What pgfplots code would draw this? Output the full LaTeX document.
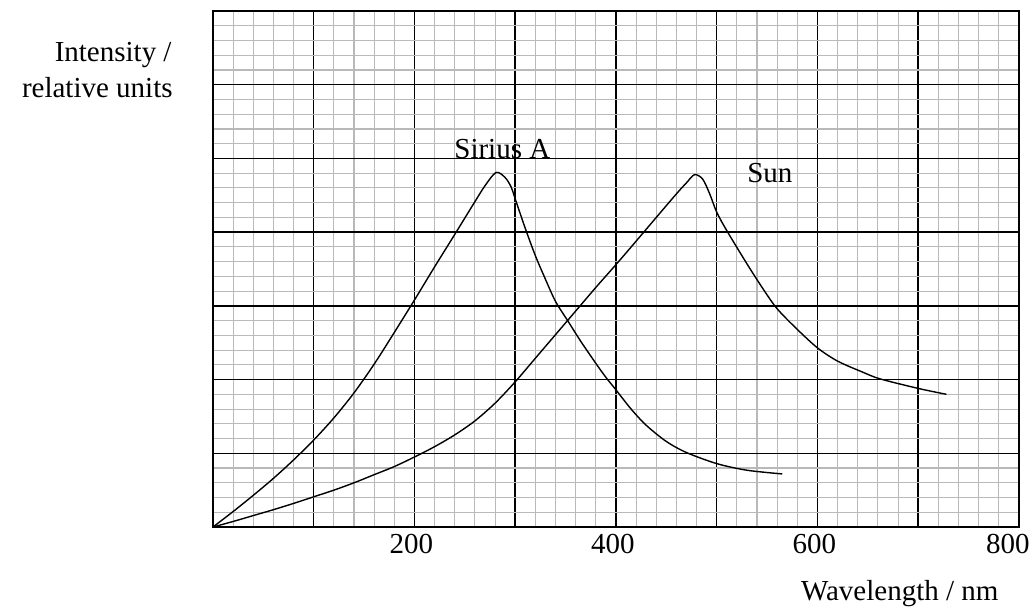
\documentclass[border=0pt]{standalone}
\usepackage{pgfplots}
\pgfplotsset{compat=1.18}
\usepackage{fontspec}
\setmainfont{Liberation Serif}
\newcommand{\lblfont}{\fontsize{14.5}{17}\selectfont}
\begin{document}
\begin{tikzpicture}
\begin{axis}[
  name=ax,
  scale only axis,
  width=403pt, height=258pt,
  xmin=0, xmax=800, ymin=0, ymax=7,
  xtick={0,100,...,800},
  xticklabels={,,200,,400,,600,,{\makebox[0pt][c]{\hspace*{-8pt}800}}},
  ytick={0,1,...,7},
  yticklabels={},
  minor x tick num=4,
  minor y tick num=4,
  grid=both,
  major grid style={black, line width=0.75pt},
  minor grid style={gray!55, line width=0.55pt},
  tick style={draw=none},
  major tick length=0pt, minor tick length=0pt,
  axis line style={black, line width=1pt},
  tick label style={font=\lblfont},
  xticklabel style={xshift=-1.5pt},
  clip=false,
]
% Sirius A
\addplot[black, line width=0.7pt, smooth, tension=0.5] coordinates {
(0,0) (20,0.21) (40,0.43) (60,0.66) (80,0.91) (100,1.18) (120,1.48) (140,1.82)
(160,2.21) (180,2.64) (200,3.08) (220,3.53) (240,3.97) (258,4.37) (270,4.63)
(281,4.81) (290,4.74) (296,4.61) (300,4.45) (310,4.05) (320,3.68) (330,3.36)
(340,3.06) (352,2.80) (365,2.52) (380,2.22) (390,2.03) (400,1.86) (415,1.60)
(430,1.38) (450,1.16) (470,1.01) (500,0.86) (530,0.77) (565,0.72)
};
% Sun
\addplot[black, line width=0.7pt, smooth, tension=0.5] coordinates {
(0,0) (20,0.075) (40,0.155) (60,0.235) (80,0.32) (100,0.41) (120,0.50) (140,0.60)
(160,0.71) (180,0.82) (200,0.95) (220,1.09) (240,1.25) (260,1.44) (280,1.68)
(300,1.97) (320,2.29) (340,2.61) (360,2.93) (380,3.25) (400,3.56) (417,3.83)
(440,4.20) (460,4.52) (470,4.67) (478,4.78) (486,4.72) (493,4.52)
(500,4.27) (510,4.02) (530,3.57) (546,3.23) (560,2.96) (580,2.68) (600,2.43)
(620,2.25) (645,2.10) (662,2.01) (700,1.88) (728,1.80)
};
\node[anchor=base west, font=\lblfont, inner sep=0pt] at (rel axis cs:0.299,0.715) {Sirius A};
\node[anchor=base west, font=\lblfont, inner sep=0pt] at (rel axis cs:0.6625,0.6686) {Sun};
\node[anchor=base east, font=\lblfont, inner sep=0pt] at (rel axis cs:-0.0509,0.903) {Intensity /};
\node[anchor=base east, font=\lblfont, inner sep=0pt] at (rel axis cs:-0.0496,0.8333) {relative units};
\node[anchor=base, font=\lblfont, inner sep=0pt] at (rel axis cs:0.852,-0.1415) {Wavelength / nm};
\end{axis}
\path (ax.south west) ++(-106.5pt,-42pt) rectangle ++(517pt,305.5pt);
\end{tikzpicture}
\end{document}
